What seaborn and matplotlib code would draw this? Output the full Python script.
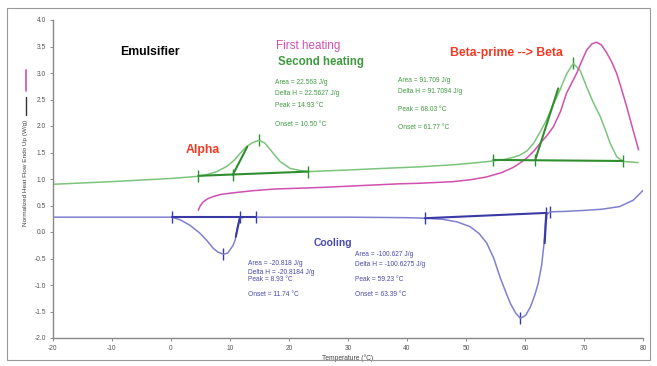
import numpy as np
import pandas as pd
import seaborn as sns
import matplotlib.pyplot as plt
from matplotlib.lines import Line2D
from matplotlib.patches import Rectangle

# Curves (temperature in degC, heat flow in W/g)
second_heating_T = [-20, -10, 0, 4.65, 6, 7.8, 9.5, 10.8, 11.7, 12.8, 13.9, 14.93, 15.9, 16.8,
                    17.6, 18.5, 20.2, 21.9, 23.3, 30, 38, 42.2, 48, 52, 54.6, 56.5, 58, 59.1,
                    60.3, 61.4, 62.5, 63.6, 64.8, 65.9, 67, 68.15, 69.3, 70.4, 71.5, 72.7, 73.6,
                    74.4, 75.5, 76.6, 78, 79.1]
second_heating_V = [0.90, 0.95, 1.01, 1.05, 1.08, 1.14, 1.24, 1.36, 1.48, 1.61, 1.69, 1.73, 1.68,
                    1.56, 1.45, 1.33, 1.20, 1.16, 1.14, 1.17, 1.21, 1.23, 1.27, 1.31, 1.34, 1.37,
                    1.41, 1.45, 1.53, 1.67, 1.88, 2.11, 2.42, 2.68, 2.98, 3.18, 3.05, 2.74, 2.45,
                    2.18, 1.92, 1.67, 1.42, 1.33, 1.32, 1.31]

first_heating_T = [4.65, 5.0, 5.5, 6.3, 7.2, 8.5, 10.6, 14, 17.4, 25.3, 33, 38.9, 42.2, 47.8, 51,
                   53.5, 56, 58, 59.1, 60.3, 61.5, 62.5, 63.7, 64.8, 66, 67, 68.7, 69.6, 70.4,
                   71.3, 72.1, 72.9, 73.7, 74.6, 75.5, 76.3, 77.2, 78.2, 79.2]
first_heating_V = [0.41, 0.50, 0.57, 0.63, 0.67, 0.71, 0.74, 0.78, 0.81, 0.84, 0.88, 0.91, 0.92,
                   0.95, 0.99, 1.04, 1.12, 1.22, 1.30, 1.40, 1.53, 1.67, 1.82, 1.99, 2.28, 2.62,
                   2.99, 3.23, 3.43, 3.55, 3.58, 3.53, 3.40, 3.22, 2.99, 2.70, 2.36, 1.95, 1.55]

cooling_T = [-20, -10, 0, 0.15, 1.6, 3.2, 4.9, 6.1, 7.2, 8.0, 8.9, 9.6, 10.0, 10.5, 10.9, 11.3,
             11.7, 12.5, 14.4, 20, 30, 40, 43, 46, 48.5, 50.7, 52.2, 53.5, 54.7, 55.7, 56.7, 57.5,
             58.4, 59.2, 60.1, 60.9, 61.6, 62.2, 62.8, 63.2, 63.5, 64.2, 67, 70.4, 73, 76, 78.3, 80]
cooling_V = [0.28, 0.28, 0.28, 0.28, 0.23, 0.13, -0.02, -0.16, -0.31, -0.38, -0.42, -0.40, -0.34,
             -0.26, -0.15, 0.10, 0.26, 0.28, 0.28, 0.28, 0.28, 0.27, 0.26, 0.24, 0.19, 0.10,
             -0.03, -0.21, -0.50, -0.84, -1.13, -1.35, -1.53, -1.63, -1.57, -1.41, -1.20, -0.97,
             -0.62, -0.21, 0.32, 0.38, 0.39, 0.41, 0.43, 0.48, 0.60, 0.79]

# integration baselines and onset tangents: (T start, T end), (V start, V end)
green_segments = [([4.65, 23.3], [1.06, 1.14]), ([10.5, 12.95], [1.08, 1.61]),
                  ([54.6, 76.6], [1.36, 1.34]), ([61.7, 65.6], [1.36, 2.71])]
blue_segments = [([0.15, 14.4], [0.28, 0.28]), ([11.7, 11.0], [0.28, -0.09]),
                 ([43.0, 63.6], [0.26, 0.36]), ([63.6, 63.3], [0.36, -0.21])]

# limit / peak markers
green_marks_T = [4.65, 10.5, 23.3, 14.93, 54.6, 61.7, 76.6, 68.15]
green_marks_V = [1.06, 1.08, 1.14, 1.73, 1.36, 1.36, 1.34, 3.18]
blue_marks_T = [0.15, 11.7, 14.4, 8.9, 43.0, 63.6, 64.2, 59.2]
blue_marks_V = [0.28, 0.28, 0.28, -0.42, 0.26, 0.36, 0.38, -1.63]

x_ticks = list(range(-20, 81, 10))
y_ticks = [-2.0, -1.5, -1.0, -0.5, 0.0, 0.5, 1.0, 1.5, 2.0, 2.5, 3.0, 3.5, 4.0]

green_light = "#7cc47c"
green_dark = "#2f8f2f"
green_text = "#3f9a3f"
magenta = "#d050b0"
blue_light = "#8080d0"
blue_dark = "#3a3aa6"
blue_text = "#4a4aae"
red = "#f03a24"

sns.set_style("white")
plt.rcParams["font.family"] = ["Liberation Sans", "DejaVu Sans"]

fig = plt.figure(figsize=(6.57, 3.66), dpi=100)
ax = fig.add_axes([52.7 / 657, 1 - 338 / 366, (643.3 - 52.7) / 657, (338 - 20) / 366])

curves = pd.concat([
    pd.DataFrame({"T": second_heating_T, "V": second_heating_V, "run": "second"}),
    pd.DataFrame({"T": first_heating_T, "V": first_heating_V, "run": "first"}),
    pd.DataFrame({"T": cooling_T, "V": cooling_V, "run": "cooling"}),
])
sns.lineplot(data=curves, x="T", y="V", hue="run", sort=False, estimator=None,
             palette={"second": green_light, "first": magenta, "cooling": blue_light},
             linewidth=1.1, legend=False, ax=ax)

for seg_T, seg_V in green_segments:
    sns.lineplot(x=seg_T, y=seg_V, sort=False, estimator=None, color=green_dark, linewidth=1.5, ax=ax)
for seg_T, seg_V in blue_segments:
    sns.lineplot(x=seg_T, y=seg_V, sort=False, estimator=None, color=blue_dark, linewidth=1.5, ax=ax)

sns.scatterplot(x=green_marks_T, y=green_marks_V, marker="|", s=80, color=green_dark, linewidth=1, ax=ax)
sns.scatterplot(x=blue_marks_T, y=blue_marks_V, marker="|", s=80, color=blue_dark, linewidth=1, ax=ax)

# labels
ax.text(-8.6, 3.40, "Emulsifier", fontsize=8.8, fontweight="bold", color="black", va="center")
ax.text(17.8, 3.51, "First heating", fontsize=8.4, color=magenta, va="center")
ax.text(18.1, 3.21, "Second heating", fontsize=8.3, fontweight="bold", color=green_text, va="center")
ax.text(47.3, 3.38, "Beta-prime --> Beta", fontsize=8.8, fontweight="bold", color=red, va="center")
ax.text(2.57, 1.55, "Alpha", fontsize=8.8, fontweight="bold", color=red, va="center")
ax.text(24.1, -0.21, "Cooling", fontsize=7.5, fontweight="bold", color=blue_text, va="center")

stat_fs = 4.8
for txt, y in zip(["Area = 22.563 J/g", "Delta H = 22.5627 J/g", "Peak = 14.93 °C", "Onset = 10.50 °C"],
                  [2.83, 2.62, 2.38, 2.02]):
    ax.text(17.7, y, txt, fontsize=stat_fs, color=green_text, va="center")
for txt, y in zip(["Area = 91.709 J/g", "Delta H = 91.7094 J/g", "Peak = 68.03 °C", "Onset = 61.77 °C"],
                  [2.85, 2.65, 2.32, 1.98]):
    ax.text(38.5, y, txt, fontsize=stat_fs, color=green_text, va="center")
for txt, y in zip(["Area = -20.818 J/g", "Delta H = -20.8184 J/g", "Peak = 8.93 °C", "Onset = 11.74 °C"],
                  [-0.59, -0.76, -0.89, -1.18]):
    ax.text(13.1, y, txt, fontsize=stat_fs, color=blue_text, va="center")
for txt, y in zip(["Area = -100.627 J/g", "Delta H = -100.6275 J/g", "Peak = 59.23 °C", "Onset = 63.39 °C"],
                  [-0.43, -0.62, -0.89, -1.18]):
    ax.text(31.2, y, txt, fontsize=stat_fs, color=blue_text, va="center")

# axes
ax.set_xlim(-20, 80)
ax.set_ylim(-2.0, 4.0)
ax.set_xticks(x_ticks)
ax.set_xticklabels([str(t) for t in x_ticks])
ax.set_yticks(y_ticks)
ax.set_yticklabels([f"{t:.1f}" for t in y_ticks])
ax.tick_params(axis="both", labelsize=4.8, labelcolor="#555555", color="#777777",
               length=2, width=0.6, pad=3, direction="out", bottom=True, left=True)
for side in ["top", "right"]:
    ax.spines[side].set_visible(False)
for side in ["left", "bottom"]:
    ax.spines[side].set_color("#888888")
    ax.spines[side].set_linewidth(1.0)
ax.set_xlabel("Temperature (°C)", fontsize=4.8, color="#444444", labelpad=2)
ax.set_ylabel("")

fig.text(25.5 / 657, 1 - 173 / 366, "Normalized Heat Flow Endo Up (W/g)", rotation=90,
         fontsize=4.6, color="#444444", ha="center", va="center")
fig.add_artist(Line2D([25.7 / 657, 25.7 / 657], [1 - 70 / 366, 1 - 91 / 366], color=magenta, lw=1.2))
fig.add_artist(Line2D([25.7 / 657, 25.7 / 657], [1 - 97 / 366, 1 - 115 / 366], color="#333333", lw=1.0))
fig.add_artist(Rectangle((7 / 657, 1 - 360 / 366), 643 / 657, 352 / 366, fill=False,
                         edgecolor="#999999", linewidth=0.8))

plt.savefig("out.png", dpi=100)
